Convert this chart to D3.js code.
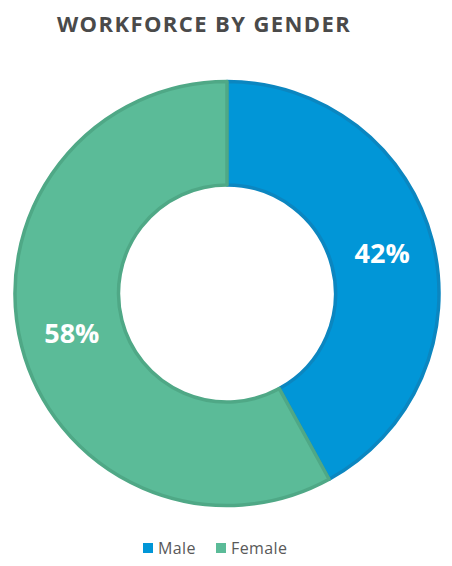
<!DOCTYPE html>
<html>
<head>
<meta charset="utf-8">
<script src="https://cdn.jsdelivr.net/npm/d3@7"></script>
<style>
  body { margin: 0; background: #fff; }
  svg { display: block; }
</style>
</head>
<body>
<script>
// data
var categories = ["Male", "Female"];
var shares = [42, 58];
var fills = ["#0196d7", "#5bbb98"];
var strokes = ["#0b86c0", "#4fa886"];

var width = 452,
    height = 566;

var svg = d3.select("body").append("svg")
    .attr("width", width)
    .attr("height", height);

// title
svg.append("text")
    .attr("x", 204)
    .attr("y", 32)
    .attr("text-anchor", "middle")
    .style("font-family", "'Open Sans', sans-serif")
    .style("font-weight", "bold")
    .style("font-size", "22px")
    .style("letter-spacing", "1.4px")
    .style("fill", "#4a4a4a")
    .text("WORKFORCE BY GENDER");

var cx = 227, cy = 293.5,
    outer = 212, inner = 108.5;

var pie = d3.pie().sort(null).value(function(d) { return d; });
var arc = d3.arc().innerRadius(inner).outerRadius(outer);
var arcs = pie(shares);

var g = svg.append("g").attr("transform", "translate(" + cx + "," + cy + ")");

g.selectAll("path.slice")
    .data(arcs)
    .enter().append("path")
    .attr("class", "slice")
    .attr("d", arc)
    .style("fill", function(d, i) { return fills[i]; })
    .style("stroke", function(d, i) { return strokes[i]; })
    .style("stroke-width", 3.5)
    .style("stroke-linejoin", "round");

var total = d3.sum(shares);
g.selectAll("text.lbl")
    .data(arcs)
    .enter().append("text")
    .attr("class", "lbl")
    .attr("transform", function(d) { return "translate(" + arc.centroid(d) + ")"; })
    .attr("text-anchor", "middle")
    .attr("dy", "0.35em")
    .style("font-family", "'Open Sans', sans-serif")
    .style("font-weight", "bold")
    .style("font-size", "27px")
    .style("fill", "#fff")
    .text(function(d) { return Math.round(d.value / total * 100) + "%"; });

// legend
var legend = svg.append("g").attr("transform", "translate(143,548)");
var offsets = [0, 73];
var items = legend.selectAll("g.item")
    .data(categories)
    .enter().append("g")
    .attr("class", "item")
    .attr("transform", function(d, i) { return "translate(" + offsets[i] + ",0)"; });

items.append("rect")
    .attr("x", 0)
    .attr("y", -5)
    .attr("width", 10)
    .attr("height", 10)
    .style("fill", function(d, i) { return fills[i]; });

items.append("text")
    .attr("x", 15)
    .attr("dy", "0.35em")
    .style("font-family", "'Open Sans', sans-serif")
    .style("font-size", "16px")
    .style("letter-spacing", "0.4px")
    .style("fill", "#595959")
    .text(function(d) { return d; });
</script>
</body>
</html>
